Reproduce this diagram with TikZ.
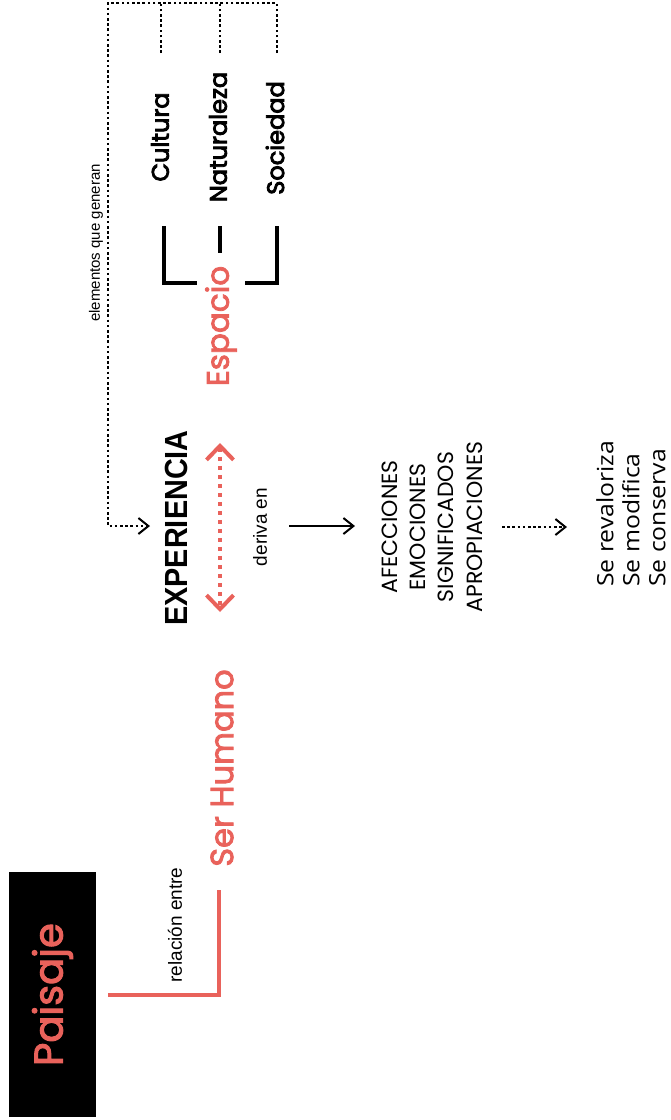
\documentclass[tikz,border=0pt]{standalone}
\usepackage{fontspec}
\usetikzlibrary{arrows.meta,calc}
\newfontfamily\geo{Poppins}
\newfontfamily\geomed[FakeBold=2.5]{Poppins}
\newfontfamily\geosemi[FakeBold=3.5]{Poppins}
\newfontfamily\helv{Liberation Sans}
\newfontfamily\helvx[FakeStretch=0.9]{Liberation Sans}
\newfontfamily\seg[FakeStretch=1.1]{Open Sans}
\definecolor{salmon}{RGB}{233,98,91}
\newcommand{\setfs}[2]{\fontsize{#1}{#2}\selectfont}

\begin{document}
\begin{tikzpicture}[x=1pt,y=-1pt,
  vtext/.style={rotate=90, inner sep=0pt},
  redline/.style={draw=salmon, line width=4pt},
  bracket/.style={draw=black, line width=4pt},
  dotline/.style={draw=black, line width=2.8pt, dash pattern=on 2.6pt off 2.6pt},
  barb/.style={-{Straight Barb[length=10pt,width=16pt,line width=2pt]}},
  solidline/.style={draw=black, line width=2pt},
  twoway/.style={draw=salmon, line width=4pt, dash pattern=on 4pt off 5pt,
    {Straight Barb[length=14pt,width=27pt,line width=4pt]}-{Straight Barb[length=14pt,width=27pt,line width=4pt]}}
]
\useasboundingbox (0,0) rectangle (671,1120);

% title block
\node[vtext, fill=black, minimum width=245pt, minimum height=87pt,
      text=salmon, font=\geomed\setfs{40}{40}] (paisaje) at (52.5,994.5) {Paisaje};

% main terms
\node[vtext, text=salmon, font=\geomed\setfs{32}{32}] (ser) at (222,768) {Ser Humano};
\node[vtext, font=\helvx\bfseries\setfs{32}{32}] (exp) at (176,528) {EXPERIENCIA};
\node[vtext, text=salmon, font=\geomed\setfs{31}{31}] (esp) at (221,326) {Espacio};

% small labels
\node[vtext, font=\helv\setfs{19}{19}] (rel) at (175,925) {relación entre};
\node[vtext, font=\helv\setfs{19}{19}] (der) at (260,527) {deriva en};
\node[vtext, font=\helv\setfs{15}{15}] (elem) at (96,243) {elementos que generan};

% generating elements
\node[vtext, font=\geosemi\setfs{24}{24}] (cul) at (160,137) {Cultura};
\node[vtext, font=\geosemi\setfs{24}{24}] (nat) at (218,137) {Naturaleza};
\node[vtext, font=\geosemi\setfs{24}{24}] (soc) at (275,138) {Sociedad};

% outcomes
\node[vtext, align=center, font=\geo\setfs{22}{28.3}] (efe) at (432,527)
  {AFECCIONES\\EMOCIONES\\SIGNIFICADOS\\APROPIACIONES};
\node[vtext, anchor=west, align=left, font=\seg\setfs{22.5}{26}] (acc) at (631,587)
  {Se revaloriza\\Se modifica\\Se conserva};

% connector end points
\coordinate (p1) at ($(paisaje.south)+(12,0)$);
\coordinate (p2) at (219,890);
\coordinate (corner) at (108,3);
\coordinate (cu) at (161,53);
\coordinate (na) at (220,53);
\coordinate (so) at (277,53);
\coordinate (ein) at (150,526);
\coordinate (e1) at (220,443);
\coordinate (e2) at (220,612);
\coordinate (d1) at (289,526);
\coordinate (d2) at (355,526);
\coordinate (f1) at (502,527);
\coordinate (f2) at (567,527);

% Paisaje -> Ser Humano
\draw[redline] (p1) -| (p2);

% Cultura / Naturaleza / Sociedad feed into EXPERIENCIA
\draw[dotline] (cu) -- (cu |- corner);
\draw[dotline] (na) -- (na |- corner);
\draw[dotline, barb] (so) -- (so |- corner) -- (corner) |- (ein);

% Ser Humano <-> Espacio
\draw[twoway] (e1) -- (e2);

% EXPERIENCIA -> outcomes
\draw[solidline, barb] (d1) -- (d2);
\draw[dotline, barb] (f1) -- (f2);

% brackets around Espacio
\draw[bracket] (164,226) -- (164,283) -- (197,283);
\draw[bracket] (220,226) -- (220,253);
\draw[bracket] (277,226) -- (277,283) -- (245,283);
\end{tikzpicture}
\end{document}
